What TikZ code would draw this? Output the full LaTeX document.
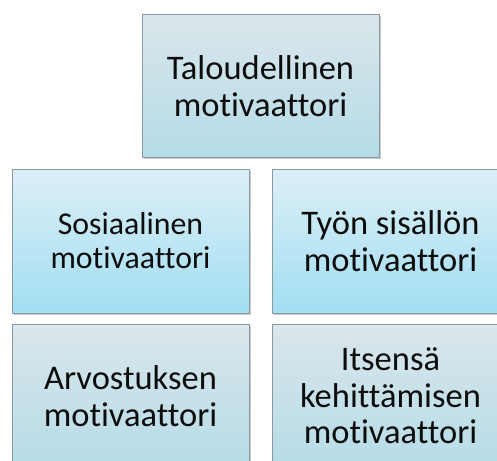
\documentclass[tikz,border=0pt]{standalone}
\usepackage{fontspec}
\setmainfont{Carlito}[Ligatures={NoCommon,NoContextual}, Contextuals={NoAlternate}, RawFeature={-liga;-clig;-calt}]
\usetikzlibrary{shadows}
\definecolor{paleTop}{RGB}{218,230,235}
\definecolor{paleBot}{RGB}{181,220,231}
\definecolor{aquaTop}{RGB}{220,239,246}
\definecolor{aquaBot}{RGB}{162,222,242}
\definecolor{edgegray}{RGB}{138,154,160}
\tikzset{
  motbox/.style={draw=edgegray, line width=1pt, minimum width=237pt,
    minimum height=144pt, inner sep=0pt, align=center, text=black!95,
    drop shadow={shadow xshift=1.5pt, shadow yshift=-1.5pt, opacity=0.35, fill=black!60}},
  pale/.style={top color=paleTop, bottom color=paleBot},
  aqua/.style={top color=aquaTop, bottom color=aquaBot},
  bigtext/.style={font=\fontsize{34.5}{36.5}\selectfont},
  smalltext/.style={font=\fontsize{31.8}{34}\selectfont},
}
\begin{document}
\begin{tikzpicture}[x=1pt, y=-1pt]
  \clip (0,0) rectangle (497,460);
  \fill[white] (0,0) rectangle (497,460);
  % top motivator
  \node[motbox, pale, bigtext, minimum height=142pt] (talous) at (260.5,86)
    {Taloudellinen\\motivaattori};
  % middle row
  \node[motbox, aqua, smalltext] (sosiaali) at (130.5,241)
    {Sosiaalinen\\motivaattori};
  \node[motbox, aqua, bigtext] (tyo) at (390.5,241)
    {Työn sisällön\\motivaattori};
  % bottom row
  \node[motbox, pale, bigtext] (arvostus) at (130.5,396)
    {Arvostuksen\\motivaattori};
  \node[motbox, pale, bigtext] (kehitys) at (390.5,396)
    {Itsensä\\kehittämisen\\motivaattori};
\end{tikzpicture}
\end{document}
